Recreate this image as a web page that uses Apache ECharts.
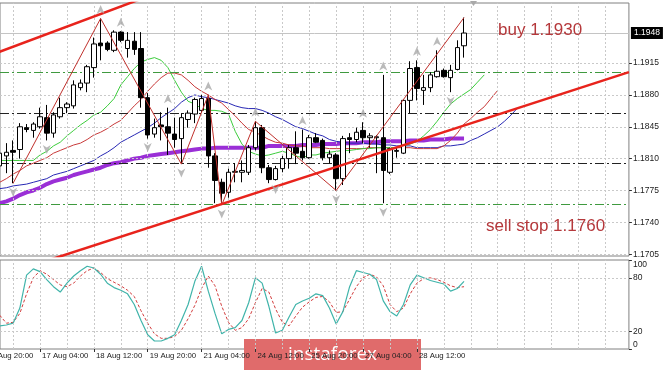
<!DOCTYPE html>
<html><head><meta charset="utf-8">
<script src="https://cdn.jsdelivr.net/npm/echarts@6/dist/echarts.min.js"></script>
<style>html,body{margin:0;padding:0;background:#fff}#c{width:665px;height:370px}</style>
</head><body><div id="c"></div>
<script>
// ---------- data ----------
const tickLabels = ["13 Aug 20:00","17 Aug 04:00","18 Aug 12:00","19 Aug 20:00","21 Aug 04:00","24 Aug 12:00","25 Aug 20:00","27 Aug 04:00","28 Aug 12:00"];
const labelStep = 8;        // one time label every 8 H4 bars (label k sits on bar k*8)
const firstLabelEnd = 7.0;  // the first label is cut by the left edge: anchor its right end here
const gridStep = 4;         // vertical grid every 4 bars
const barMin = 2.05, barMax = 95.5; // visible bar range (left edge .. right edge incl. shift space)
const firstBar = 2;         // bar index of the first candle
// [open, close, low, high]
const candles = [
 [1.1802,1.1816,1.1797,1.1821],[1.1813,1.1817,1.1794,1.1827],[1.1819,1.1817,1.1783,1.1830],[1.1820,1.1845,1.1810,1.1849],
 [1.1844,1.1842,1.1839,1.1848],[1.1841,1.1848,1.1833,1.1850],[1.1845,1.1856,1.1843,1.1866],[1.1855,1.1838,1.1830,1.1869],
 [1.1838,1.1858,1.1833,1.1861],[1.1856,1.1866,1.1854,1.1877],[1.1866,1.1870,1.1860,1.1872],[1.1868,1.1891,1.1865,1.1896],
 [1.1888,1.1893,1.1885,1.1897],[1.1893,1.1911,1.1883,1.1913],[1.1910,1.1936,1.1899,1.1943],[1.1937,1.1934,1.1918,1.1964],
 [1.1937,1.1930,1.1928,1.1939],[1.1929,1.1949,1.1927,1.1951],[1.1949,1.1940,1.1938,1.1950],[1.1931,1.1940,1.1921,1.1949],
 [1.1939,1.1930,1.1924,1.1949],[1.1931,1.1877,1.1866,1.1949],[1.1877,1.1836,1.1832,1.1882],[1.1837,1.1844,1.1833,1.1854],
 [1.1847,1.1845,1.1830,1.1861],[1.1845,1.1838,1.1814,1.1866],[1.1837,1.1831,1.1822,1.1855],[1.1832,1.1855,1.1804,1.1860],
 [1.1853,1.1860,1.1844,1.1863],[1.1859,1.1875,1.1849,1.1877],[1.1863,1.1876,1.1861,1.1880],[1.1876,1.1813,1.1800,1.1880],
 [1.1813,1.1786,1.1761,1.1816],[1.1784,1.1772,1.1759,1.1788],[1.1773,1.1795,1.1767,1.1799],[1.1795,1.1796,1.1784,1.1805],
 [1.1795,1.1797,1.1784,1.1808],[1.1795,1.1822,1.1792,1.1825],[1.1822,1.1844,1.1819,1.1851],[1.1844,1.1800,1.1794,1.1847],
 [1.1800,1.1787,1.1783,1.1803],[1.1787,1.1799,1.1786,1.1802],[1.1799,1.1810,1.1795,1.1813],[1.1810,1.1822,1.1799,1.1825],
 [1.1822,1.1816,1.1804,1.1840],[1.1818,1.1811,1.1808,1.1842],[1.1811,1.1833,1.1810,1.1836],[1.1833,1.1828,1.1827,1.1838],
 [1.1830,1.1811,1.1808,1.1832],[1.1811,1.1815,1.1805,1.1819],[1.1814,1.1788,1.1775,1.1816],[1.1788,1.1832,1.1781,1.1835],
 [1.1833,1.1831,1.1816,1.1838],[1.1831,1.1839,1.1828,1.1844],[1.1841,1.1833,1.1827,1.1850],[1.1833,1.1835,1.1822,1.1838],
 [1.1833,1.1834,1.1794,1.1836],[1.1833,1.1797,1.1761,1.1902],[1.1795,1.1821,1.1793,1.1822],[1.1818,1.1819,1.1811,1.1822],
 [1.1816,1.1874,1.1815,1.1875],[1.1874,1.1909,1.1860,1.1917],[1.1910,1.1887,1.1874,1.1918],[1.1885,1.1888,1.1869,1.1902],
 [1.1888,1.1902,1.1883,1.1905],[1.1900,1.1906,1.1899,1.1929],[1.1907,1.1900,1.1899,1.1909],[1.1899,1.1907,1.1883,1.1913],
 [1.1908,1.1932,1.1907,1.1940],[1.1934,1.1948,1.1921,1.1965]
];
// Alligator lines (lips green, teeth red, jaw blue) and the thick purple MA
const lipsStart = 2;
const lips = [1.1808,1.1808,1.1808,1.1808,1.1808,1.1808,1.1814,1.1818,1.1824,1.1828,1.1835,1.1841,1.1847,1.1852,1.1858,1.1861,
 1.1868,1.1876,1.1891,1.1900,1.1909,1.1916,1.1919,1.1921,1.1918,1.1910,1.1896,1.1883,1.1873,1.1870,1.1865,1.1863,1.1863,1.1862,
 1.1859,1.1840,1.1826,1.1818,1.1815,1.1813,1.1814,1.1816,1.1818,1.1816,1.1813,1.1811,1.1814,1.1814,1.1816,1.1817,1.1818,1.1819,
 1.1819,1.1820,1.1821,1.1821,1.1822,1.1822,1.1822,1.1822,1.1824,1.1826,1.1829,1.1835,1.1842,1.1851,1.1861,1.1870,1.1876,1.1881,
 1.1886,1.1894,1.1902];
const teethStart = 2;
const teeth = [1.1784,1.1788,1.1793,1.1797,1.1802,1.1805,1.1808,1.1811,1.1816,1.1819,1.1822,1.1825,1.1827,1.1831,1.1836,1.1839,
 1.1843,1.1848,1.1852,1.1860,1.1868,1.1875,1.1884,1.1892,1.1899,1.1904,1.1904,1.1902,1.1896,1.1889,1.1884,1.1880,1.1875,1.1871,
 1.1864,1.1857,1.1849,1.1842,1.1839,1.1835,1.1831,1.1828,1.1827,1.1825,1.1824,1.1824,1.1822,1.1822,1.1822,1.1821,1.1821,1.1821,
 1.1821,1.1821,1.1821,1.1822,1.1822,1.1822,1.1822,1.1822,1.1822,1.1822,1.1821,1.1821,1.1821,1.1821,1.1824,1.1830,1.1838,1.1848,
 1.1854,1.1861,1.1867,1.1876,1.1885];
const jawStart = 2;
const jaw = [1.1777,1.1778,1.1780,1.1781,1.1782,1.1784,1.1786,1.1788,1.1792,1.1794,1.1796,1.1799,1.1802,1.1805,1.1808,1.1813,
 1.1817,1.1822,1.1828,1.1832,1.1836,1.1840,1.1844,1.1849,1.1855,1.1860,1.1865,1.1872,1.1877,1.1880,1.1878,1.1877,1.1875,1.1873,
 1.1871,1.1868,1.1866,1.1865,1.1865,1.1863,1.1860,1.1856,1.1853,1.1849,1.1845,1.1843,1.1840,1.1837,1.1835,1.1831,1.1829,1.1828,
 1.1827,1.1827,1.1827,1.1826,1.1826,1.1825,1.1825,1.1824,1.1824,1.1824,1.1822,1.1822,1.1822,1.1822,1.1824,1.1824,1.1825,1.1826,
 1.1830,1.1833,1.1837,1.1841,1.1845,1.1851,1.1858,1.1866];
const maStart = 2;
const ma = [1.1761,1.1763,1.1766,1.1770,1.1773,1.1775,1.1778,1.1782,1.1785,1.1787,1.1789,1.1792,1.1794,1.1796,1.1798,1.1800,
 1.1803,1.1805,1.1806,1.1808,1.1810,1.1811,1.1813,1.1814,1.1815,1.1816,1.1817,1.1818,1.1819,1.1820,1.1821,1.1821,1.1822,1.1822,
 1.1822,1.1822,1.1822,1.1822,1.1822,1.1822,1.1824,1.1824,1.1824,1.1824,1.1824,1.1825,1.1825,1.1825,1.1826,1.1826,1.1826,1.1827,
 1.1827,1.1827,1.1828,1.1828,1.1828,1.1829,1.1829,1.1829,1.1829,1.1830,1.1830,1.1830,1.1831,1.1831,1.1831,1.1832,1.1832,1.1832];
// ZigZag vertices [bar, price]
const zigzag = [[4,1.1783],[17,1.1964],[29,1.1804],[33,1.1880],[35,1.1759],[40,1.1851],[52,1.1775],[71,1.1965]];
// Fractals [bar, price]
const fractalsUp = [[17,1.1964],[20,1.1950],[27,1.1866],[33,1.1880],[40,1.1851],[47,1.1842],[56,1.1850],[59,1.1902],[64,1.1918],[67,1.1929]];
const fractalsDown = [[4,1.1783],[9,1.1830],[24,1.1832],[29,1.1804],[35,1.1759],[43,1.1786],[52,1.1775],[59,1.1761],[69,1.1883]];
// channel lines [bar, price]
const upperChannel = [[1.5,1.1926],[25,1.1991]];
const lowerChannel = [[9.5,1.1699],[95.5,1.1905]];
// horizontal levels
const bidPrice = 1.1948;
const greenLevels = [1.1905, 1.1760];
const blackLevels = [1.1860, 1.1805];
const priceTicks = [1.1705,1.1740,1.1775,1.1810,1.1845,1.1880,1.1915];
const priceMin = 1.1703, priceMax = 1.1981;
// Stochastic
const stochStart = 2;
const stochMain = [26,27,29,46,83,90,87,78,70,64,74,82,88,93,91,84,74,69,66,62,50,32,16,9,9,12,16,32,50,76,93,65,40,17,22,
 24,32,52,80,74,48,18,21,36,50,54,57,62,60,46,28,42,70,88,86,84,78,54,42,37,50,72,83,80,77,75,73,65,68,76];
const stochSignal = [38,29,30,40,62,80,88,84,78,72,70,74,82,88,91,86,79,75,71,66,59,43,29,17,12,12,14,21,34,49,
 68,82,71,48,30,21,24,34,52,68,64,45,30,26,37,47,53,58,59,53,41,42,56,70,80,84,81,71,50,42,46,62,74,79,80,78,75,71,69,70];
const stochTicks = [0,20,80,100];
const stochLevels = [20,80];

// ---------- build ----------
const pairs = (start, arr) => arr.map((v, k) => [start + k, v]);
const vGrid = [];
for (let i = gridStep; i < barMax; i += gridStep) vGrid.push({xAxis: i});
const labelBars = tickLabels.map((t, k) => k * labelStep).filter(b => b >= barMin);
const labelValues = [firstLabelEnd].concat(labelBars);
const labelText = (v) => v < labelStep ? tickLabels[0] : tickLabels[Math.round(v / labelStep)];
const FONT = '"Liberation Sans", Arial, sans-serif';
const gridLine = {color: '#c9c9c9', type: [2, 2], width: 1};
const dashDot = [9, 3, 2, 3];

const chart = echarts.init(document.getElementById('c'), null, {renderer: 'canvas'});
chart.setOption({
  animation: false,
  backgroundColor: '#fff',
  textStyle: {fontFamily: FONT},
  grid: [
    {left: 0, right: 36.08, top: 3, height: 253, show: true, borderColor: '#808080', borderWidth: 1,
     containLabel: false, outerBoundsMode: 'none'},
    {left: 0, right: 36.08, top: 260, height: 89, show: true, borderColor: '#808080', borderWidth: 1,
     containLabel: false, outerBoundsMode: 'none'}
  ],
  xAxis: [
    {type: 'value', gridIndex: 0, min: barMin, max: barMax, show: false},
    {type: 'value', gridIndex: 1, min: barMin, max: barMax, splitLine: {show: false},
     axisLine: {show: false},
     axisTick: {show: true, customValues: labelBars, length: 3, lineStyle: {color: '#333'}},
     axisLabel: {customValues: labelValues, formatter: labelText, align: 'left', alignMinLabel: 'right',
       margin: 3, padding: [0, 0, 0, 2], fontSize: 7.8, color: '#222'}}
  ],
  yAxis: [
    {type: 'value', gridIndex: 0, position: 'right', min: priceMin, max: priceMax,
     splitLine: {show: false}, axisLine: {show: false},
     axisTick: {show: true, customValues: priceTicks, length: 3, lineStyle: {color: '#333'}},
     axisLabel: {customValues: priceTicks, formatter: (v) => v.toFixed(4), margin: 4, fontSize: 8.5, color: '#222'}},
    {type: 'value', gridIndex: 1, position: 'right', min: 0, max: 100,
     splitLine: {show: false}, axisLine: {show: false},
     axisTick: {show: true, customValues: stochTicks, length: 3, lineStyle: {color: '#333'}},
     axisLabel: {customValues: stochTicks, margin: 4, fontSize: 8.5, color: '#222',
       verticalAlignMinLabel: 'bottom', verticalAlignMaxLabel: 'top'}}
  ],
  series: [
    // grid (main pane)
    {type: 'line', xAxisIndex: 0, yAxisIndex: 0, data: [], z: 1, silent: true,
     markLine: {silent: true, symbol: 'none', precision: 6, label: {show: false}, lineStyle: gridLine,
       data: priceTicks.map(v => ({yAxis: v})).concat(vGrid)}},
    // levels
    {type: 'line', xAxisIndex: 0, yAxisIndex: 0, data: [], z: 2, silent: true,
     markLine: {silent: true, symbol: 'none', precision: 6, label: {show: false},
       data: [
         {yAxis: bidPrice, lineStyle: {color: '#c4c4c4', type: 'solid', width: 1},
          label: {show: true, position: 'end', distance: 2, formatter: bidPrice.toFixed(4), backgroundColor: '#000',
            color: '#fff', fontSize: 8.5, padding: [2, 3, 1, 3], fontFamily: FONT}}
       ].concat(greenLevels.map(v => ({yAxis: v, lineStyle: {color: '#3f9a3f', type: dashDot, width: 1}})))
        .concat(blackLevels.map(v => ({yAxis: v, lineStyle: {color: '#222', type: dashDot, width: 1}})))}},
    // thick MA
    {type: 'line', xAxisIndex: 0, yAxisIndex: 0, data: pairs(maStart, ma), symbol: 'none', z: 3,
     lineStyle: {color: '#9a2fd6', width: 4}},
    // alligator
    {type: 'line', xAxisIndex: 0, yAxisIndex: 0, data: pairs(jawStart, jaw), symbol: 'none', z: 3,
     lineStyle: {color: '#2828b4', width: 1}},
    {type: 'line', xAxisIndex: 0, yAxisIndex: 0, data: pairs(teethStart, teeth), symbol: 'none', z: 3,
     lineStyle: {color: '#c83a3a', width: 1}},
    {type: 'line', xAxisIndex: 0, yAxisIndex: 0, data: pairs(lipsStart, lips), symbol: 'none', z: 3,
     lineStyle: {color: '#3ccc3c', width: 1}},
    // candles
    {type: 'candlestick', xAxisIndex: 0, yAxisIndex: 0, z: 5, barWidth: 5,
     encode: {x: 0, y: [1, 2, 3, 4]},
     data: candles.map((c, k) => [firstBar + k].concat(c)),
     itemStyle: {color: '#fff', color0: '#000', borderColor: '#000', borderColor0: '#000', borderWidth: 1}},
    // zigzag
    {type: 'line', xAxisIndex: 0, yAxisIndex: 0, data: zigzag, symbol: 'none', z: 6,
     lineStyle: {color: '#c0302c', width: 1}},
    // channel
    {type: 'line', xAxisIndex: 0, yAxisIndex: 0, data: upperChannel, symbol: 'none', z: 7,
     lineStyle: {color: '#e8231c', width: 2.5}},
    {type: 'line', xAxisIndex: 0, yAxisIndex: 0, data: lowerChannel, symbol: 'none', z: 7,
     lineStyle: {color: '#e8231c', width: 2.5}},
    // fractals
    {type: 'scatter', xAxisIndex: 0, yAxisIndex: 0, data: fractalsUp, z: 8,
     symbol: 'path://M5,0L10,11L5,8L0,11Z', symbolSize: [8, 9], symbolOffset: [0, -9],
     itemStyle: {color: '#a9a9a9'}},
    {type: 'scatter', xAxisIndex: 0, yAxisIndex: 0, data: fractalsDown, z: 8,
     symbol: 'path://M0,0L5,3L10,0L5,11Z', symbolSize: [8, 9], symbolOffset: [0, 9],
     itemStyle: {color: '#a9a9a9'}},
    // stochastic pane grid
    {type: 'line', xAxisIndex: 1, yAxisIndex: 1, data: [], z: 1, silent: true,
     markLine: {silent: true, symbol: 'none', precision: 6, label: {show: false}, lineStyle: gridLine,
       data: stochLevels.map(v => ({yAxis: v})).concat(vGrid)}},
    {type: 'line', xAxisIndex: 1, yAxisIndex: 1, data: pairs(stochStart, stochSignal), symbol: 'none', z: 3,
     lineStyle: {color: '#d23c3c', width: 1, type: [3, 2]}},
    {type: 'line', xAxisIndex: 1, yAxisIndex: 1, data: pairs(stochStart, stochMain), symbol: 'none', z: 4,
     lineStyle: {color: '#40b4aa', width: 1.2}}
  ],
  graphic: [
    {type: 'text', left: 498, top: 22, z: 20,
     style: {text: 'buy 1.1930', fill: '#b5383b', font: '17px ' + FONT}},
    {type: 'text', left: 486, top: 218, z: 20,
     style: {text: 'sell stop 1.1760', fill: '#b5383b', font: '17px ' + FONT}},
    {type: 'polygon', z: 20, shape: {points: [[470, 1], [477, 1], [473.5, 6]]}, style: {fill: '#a9a9a9'}},
    {type: 'group', left: 244, top: 339, z: 30, children: [
      {type: 'rect', shape: {x: 0, y: 0, width: 177, height: 31}, style: {fill: '#e06b6b'}},
      {type: 'text', x: 88.5, y: 16, style: {text: 'instaforex', fill: '#fff', font: '19px "Open Sans", sans-serif',
        align: 'center', verticalAlign: 'middle'}}
    ]}
  ]
});
</script>
</body></html>
